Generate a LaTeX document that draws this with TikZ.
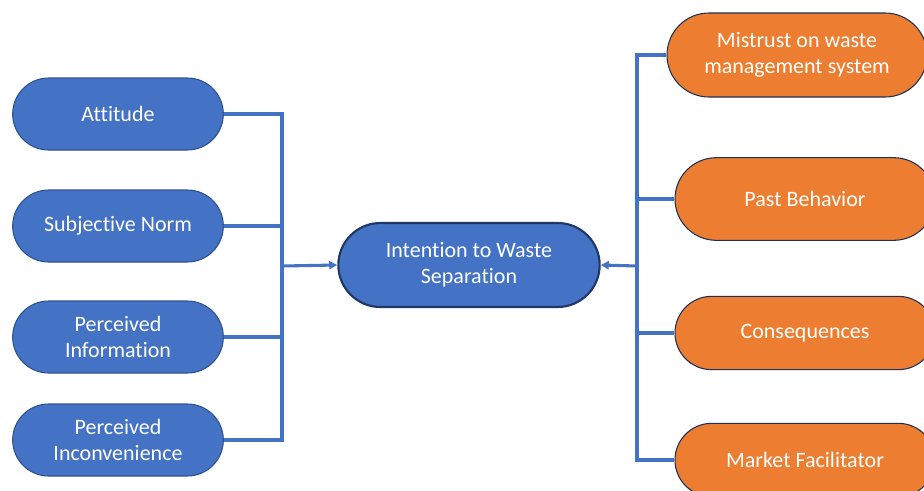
\documentclass[tikz,border=0pt]{standalone}
\usepackage{fontspec}
\setmainfont{Carlito}[Ligatures=NoCommon]
\usetikzlibrary{shapes.misc,arrows.meta}
\definecolor{boxblue}{HTML}{4472C4}
\definecolor{edgeblue}{HTML}{2F528F}
\definecolor{boxorange}{HTML}{ED7D31}
\definecolor{darkedge}{HTML}{1F3864}
\begin{document}
\begin{tikzpicture}[x=0.75pt,y=-0.75pt,
  factor/.style={rounded rectangle,draw=edgeblue,line width=0.8pt,fill=boxblue,
    text=white,font=\fontsize{16.5}{19.8}\selectfont,align=center,
    minimum width=158pt,minimum height=54pt,inner sep=0pt},
  barrier/.style={factor,fill=boxorange,draw=edgeblue!60!black,minimum width=195pt,minimum height=55pt},
  goalbox/.style={factor,draw=darkedge,line width=1.6pt,minimum width=196pt,minimum height=63pt},
  conn/.style={draw=boxblue,line width=2.3pt},
  >={Triangle[length=6pt,width=6pt]}]
\useasboundingbox (0,0) rectangle (924,490);
\clip (0,0) rectangle (924,490);
\node[goalbox] (goal) at (469,265) {\raisebox{-2pt}{\begin{tabular}{@{}c@{}}Intention to Waste\\Separation\end{tabular}}};
\node[factor] (att) at (118,114) {Attitude};
\node[factor] (sub) at (118,226) {Subjective Norm};
\node[factor] (inf) at (118,337) {Perceived\\Information};
\node[factor] (inc) at (118,440) {Perceived\\Inconvenience};
\node[barrier,minimum height=63pt] (mis) at (797,55) {\raisebox{-2pt}{\begin{tabular}{@{}c@{}}Mistrust on waste\\management system\end{tabular}}};
\node[barrier,minimum height=62pt] (past) at (805,199) {Past Behavior};
\node[barrier] (cons) at (805,333) {Consequences};
\node[barrier] (mkt) at (805,460) {Market Facilitator};
\coordinate (lbus) at (282,266);
\coordinate (rbus) at (637,266);
\draw[conn] (att.east) -| (lbus);
\draw[conn] (sub.east) -| (lbus);
\draw[conn] (inf.east) -| (lbus);
\draw[conn] (inc.east) -| (lbus);
\draw[conn,->] (lbus) -- (goal.west);
\draw[conn] (mis.west) -| (rbus);
\draw[conn] (past.west) -| (rbus);
\draw[conn] (cons.west) -| (rbus);
\draw[conn] (mkt.west) -| (rbus);
\draw[conn,->] (rbus) -- (goal.east);
\end{tikzpicture}
\end{document}
